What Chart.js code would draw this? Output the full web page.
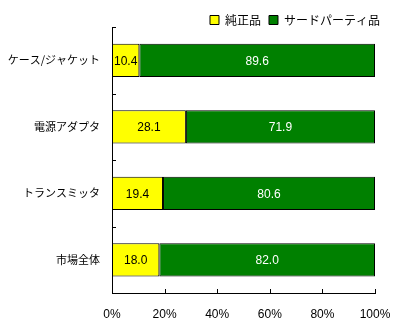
<!DOCTYPE html>
<html><head><meta charset="utf-8">
<script src="https://cdn.jsdelivr.net/npm/chart.js@4"></script>
<style>html,body{margin:0;padding:0;background:#fff}#w{width:400px;height:328px}</style>
</head><body><div id="w"><canvas id="c"></canvas></div>
<script>
const categories = ['ケース/ジャケット', '電源アダプタ', 'トランスミッタ', '市場全体'];
const seriesNames = ['純正品', 'サードパーティ品'];
const genuine = [10.4, 28.1, 19.4, 18.0];
const thirdParty = [89.6, 71.9, 80.6, 82.0];
const xTicks = [0, 20, 40, 60, 80, 100];

const numFont = "'Liberation Sans Narrow', 'Liberation Sans', Arial, sans-serif";
const jpFont = "'Noto Sans CJK JP', sans-serif";

const legendTrim = {
  id: 'legendTrim',
  afterInit(chart) {
    const lg = chart.legend;
    if (!lg) return;
    const f = lg.fit.bind(lg);
    lg.fit = function () { f(); this.height = 21; };
  }
};

const inwardTicks = {
  id: 'inwardTicks',
  afterDraw(chart) {
    const ctx = chart.ctx, xs = chart.scales.x, ys = chart.scales.y;
    ctx.save();
    ctx.strokeStyle = '#000'; ctx.lineWidth = 1;
    ctx.beginPath();
    xs.ticks.forEach(t => {
      const px = Math.round(xs.getPixelForValue(t.value)) + 0.5;
      ctx.moveTo(px, ys.bottom); ctx.lineTo(px, ys.bottom - 4);
    });
    const n = ys.ticks.length;
    for (let i = 0; i <= n; i++) {
      let py;
      if (i === 0) py = ys.top; else if (i === n) py = ys.bottom;
      else py = (ys.getPixelForValue(i - 1) + ys.getPixelForValue(i)) / 2;
      py = Math.round(py) + 0.5;
      ctx.moveTo(xs.left, py); ctx.lineTo(xs.left + 4, py);
    }
    ctx.stroke();
    ctx.restore();
  }
};

const barLabels = {
  id: 'barLabels',
  afterDatasetsDraw(chart) {
    const ctx = chart.ctx;
    ctx.save();
    ctx.font = "12px " + numFont;
    ctx.textAlign = 'center'; ctx.textBaseline = 'middle';
    chart.data.datasets.forEach((ds, di) => {
      const meta = chart.getDatasetMeta(di);
      meta.data.forEach((el, i) => {
        const cx = (el.x + el.base) / 2;
        ctx.fillStyle = di === 0 ? '#000' : '#fff';
        ctx.fillText(ds.data[i].toFixed(1), cx, el.y + 1);
      });
    });
    ctx.restore();
  }
};

new Chart(document.getElementById('c'), {
  type: 'bar',
  data: {
    labels: categories,
    datasets: [
      { label: seriesNames[0], data: genuine, backgroundColor: '#ffff00', borderColor: '#000', borderWidth: 1, borderSkipped: false },
      { label: seriesNames[1], data: thirdParty, backgroundColor: '#008000', borderColor: '#000', borderWidth: 1, borderSkipped: false }
    ]
  },
  options: {
    indexAxis: 'y',
    responsive: true,
    maintainAspectRatio: false,
    animation: false,
    devicePixelRatio: 1,
    layout: { padding: { left: 0, right: 12, top: 6, bottom: 0 } },
    datasets: { bar: { barPercentage: 0.5, categoryPercentage: 1.0 } },
    plugins: {
      legend: {
        position: 'top', align: 'end',
        labels: { boxWidth: 9, boxHeight: 9, padding: 8, color: '#000', font: { family: jpFont, size: 12 } }
      },
      tooltip: { enabled: false }
    },
    scales: {
      x: {
        stacked: true, min: 0, max: 100,
        afterBuildTicks(s) { s.ticks = xTicks.map(v => ({ value: v })); },
        afterFit(s) { s.height = 35; s.paddingRight = 25; },
        grid: { display: false, drawTicks: false },
        border: { display: true, color: '#000', width: 1 },
        ticks: { color: '#000', padding: 14, maxRotation: 0, font: { family: numFont, size: 12 }, callback: v => v + '%' }
      },
      y: {
        stacked: true,
        afterFit(s) { s.width = 112; },
        grid: { display: false, drawTicks: false },
        border: { display: true, color: '#000', width: 1 },
        ticks: { color: '#000', padding: 12, font: { family: jpFont, size: 11 } }
      }
    }
  },
  plugins: [legendTrim, inwardTicks, barLabels]
});
</script></body></html>
